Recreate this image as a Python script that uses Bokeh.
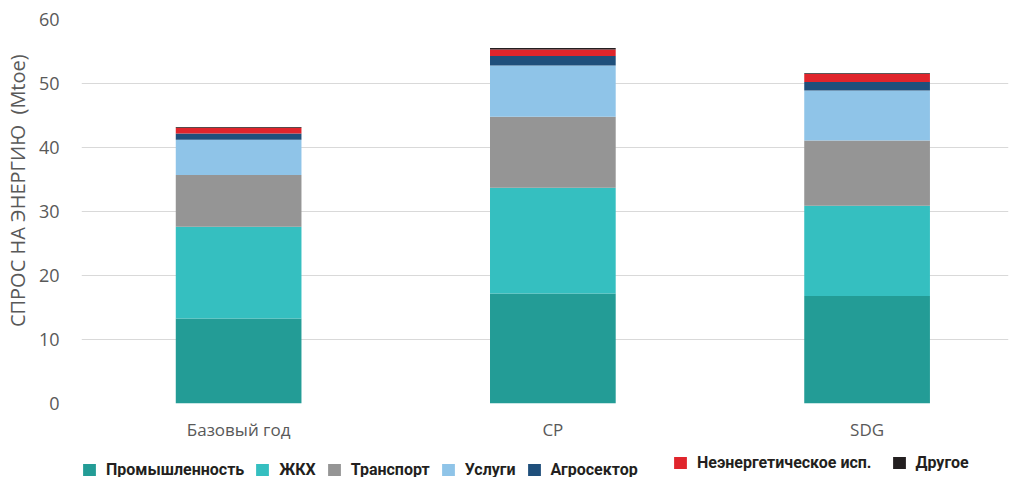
from bokeh.plotting import figure
from bokeh.layouts import column
from bokeh.models import ColumnDataSource, Range1d, FixedTicker, Legend, LegendItem
from bokeh.embed import file_html
from bokeh.resources import INLINE

categories = ["Базовый год", "CP", "SDG"]
series = ["Промышленность", "ЖКХ", "Транспорт", "Услуги", "Агросектор", "Неэнергетическое исп.", "Другое"]
industry = [13.3, 17.2, 16.8]
housing = [14.3, 16.5, 14.1]
transport = [8.1, 11.1, 10.2]
services = [5.5, 8.0, 7.8]
agro = [1.0, 1.5, 1.35]
nonenergy = [0.9, 1.0, 1.25]
other = [0.1, 0.25, 0.1]
colors = ["#239c96", "#35bfc0", "#959595", "#8fc4e8", "#1f4f7b", "#e0252c", "#231f20"]

keys = ["s0", "s1", "s2", "s3", "s4", "s5", "s6"]
data = dict(x=list(range(len(categories))))
for k, v in zip(keys, [industry, housing, transport, services, agro, nonenergy, other]):
    data[k] = v
src = ColumnDataSource(data)

p = figure(width=1014, height=450, output_backend="svg", toolbar_location=None,
           x_range=Range1d(-0.5, 2.45), y_range=Range1d(0, 60),
           min_border_left=80, min_border_right=6, min_border_top=19, min_border_bottom=47)
p.outline_line_color = None
p.background_fill_color = "white"
p.border_fill_color = "white"

renderers = p.vbar_stack(keys, x="x", width=0.40, source=src, color=colors, line_color=None)

p.xgrid.grid_line_color = None
p.ygrid.grid_line_color = "#d9d9d9"
p.ygrid.grid_line_width = 1
p.yaxis.ticker = FixedTicker(ticks=[0, 10, 20, 30, 40, 50, 60])
p.xaxis.ticker = FixedTicker(ticks=[0, 1, 2])
p.xaxis.major_label_overrides = {i: c for i, c in enumerate(categories)}

for ax in (p.xaxis[0], p.yaxis[0]):
    ax.axis_line_color = None
    ax.major_tick_line_color = None
    ax.minor_tick_line_color = None
    ax.major_label_text_color = "#595959"
    ax.major_label_text_font = "Open Sans"
    ax.major_label_text_font_size = "17px"

p.yaxis.major_label_text_font_size = "18px"
p.yaxis.major_label_standoff = 16
p.xaxis.major_label_standoff = 8
p.yaxis.axis_label = "\u00a0" * 8 + "СПРОС НА ЭНЕРГИЮ\u00a0\u00a0(Mtoe)"
p.yaxis.axis_label_text_font = "Open Sans"
p.yaxis.axis_label_text_font_style = "normal"
p.yaxis.axis_label_text_font_size = "20px"
p.yaxis.axis_label_text_color = "#595959"
p.yaxis.axis_label_standoff = 5

# legend strip below the chart
lf = figure(width=1014, height=27, output_backend="svg", toolbar_location=None,
            x_range=Range1d(0, 1), y_range=Range1d(0, 1),
            min_border=0, min_border_left=0, min_border_right=0, min_border_top=0, min_border_bottom=0)
lf.axis.visible = False
lf.grid.visible = False
lf.outline_line_color = None
lf.border_fill_color = "white"
offscreen = ColumnDataSource(dict(l=[5], r=[6], b=[5], t=[6]))
dummies = [lf.quad(left="l", right="r", bottom="b", top="t", source=offscreen, color=c, line_color=None)
           for c in colors]

common = dict(orientation="horizontal", label_text_font="Roboto", label_text_font_style="bold",
              label_text_font_size="16px", label_text_color="#231f20",
              glyph_width=16, glyph_height=15, label_standoff=9,
              padding=0, margin=0, border_line_color=None, background_fill_alpha=0)
leg1 = Legend(items=[LegendItem(label=s, renderers=[r]) for s, r in zip(series[:5], dummies[:5])],
              location=(0, -2), spacing=10, **common)
leg2 = Legend(items=[LegendItem(label=s, renderers=[r]) for s, r in zip(series[5:], dummies[5:])],
              location=(591, 5), spacing=19, **common)
lf.add_layout(leg1, "center")
lf.add_layout(leg2, "center")

layout = column(p, lf, spacing=0)
open("out.html", "w").write(file_html(layout, INLINE))
